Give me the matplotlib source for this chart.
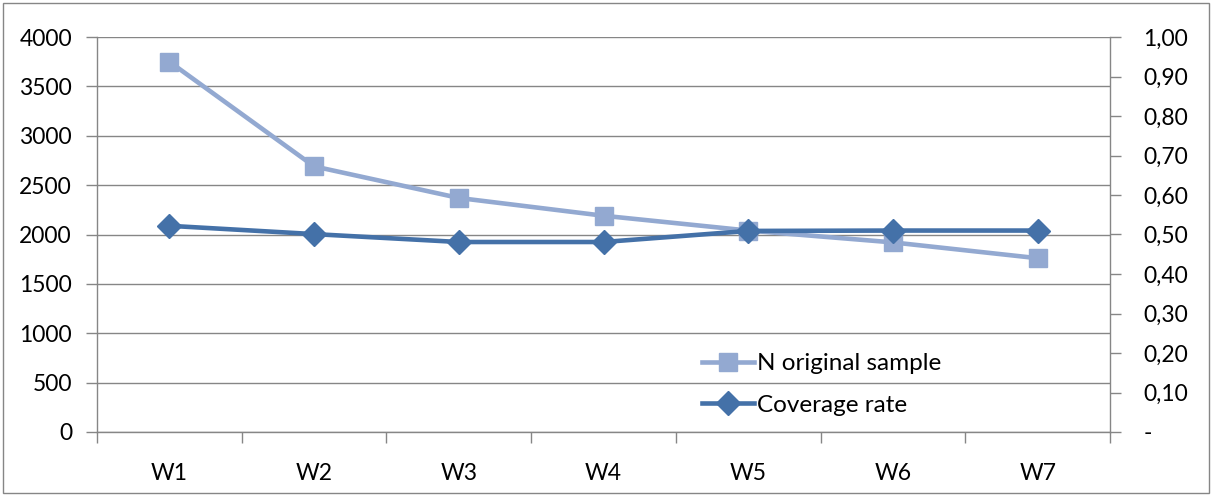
import matplotlib
matplotlib.use("Agg")
import matplotlib.pyplot as plt
from matplotlib.patches import Rectangle
from matplotlib.ticker import FixedLocator, FuncFormatter, MultipleLocator

# Data
waves = ["W1", "W2", "W3", "W4", "W5", "W6", "W7"]
n_original_sample = [3750, 2690, 2370, 2190, 2040, 1920, 1760]
coverage_rate = [0.522, 0.501, 0.481, 0.481, 0.509, 0.510, 0.510]

light_blue = "#93A9D1"
dark_blue = "#4471A8"
axis_gray = "#868686"

plt.rcParams["font.family"] = ["Lato", "DejaVu Sans"]
plt.rcParams["font.size"] = 16.5

fig = plt.figure(figsize=(12.12, 4.96), dpi=100)
ax = fig.add_axes([97 / 1212, 1 - 432 / 496, (1110 - 97) / 1212, (432 - 37) / 496])
ax2 = ax.twinx()

x = list(range(len(waves)))

ax.plot(x, n_original_sample, color=light_blue, lw=3.3, marker="s", ms=13.5,
        mfc=light_blue, mec=light_blue, label="N original sample", zorder=3)
ax2.plot(x, coverage_rate, color=dark_blue, lw=3.3, marker="D", ms=12,
         mfc=dark_blue, mec=dark_blue, label="Coverage rate", zorder=3)

ax.set_xlim(-0.5, len(waves) - 0.5)
ax.set_ylim(0, 4000)
ax2.set_ylim(0, 1.0)

ax.yaxis.set_major_locator(MultipleLocator(500))
ax2.yaxis.set_major_locator(MultipleLocator(0.1))
ax2.yaxis.set_major_formatter(FuncFormatter(
    lambda v, p: "-" if abs(v) < 1e-9 else f"{v:.2f}".replace(".", ",")))

ax.grid(axis="y", color=axis_gray, lw=1.0)
ax.set_axisbelow(True)

# category labels centred, tick marks on the boundaries
ax.set_xticks(x)
ax.set_xticklabels(waves)
ax.xaxis.set_minor_locator(FixedLocator([i + 0.5 for i in range(-1, len(waves))]))
ax.tick_params(axis="x", which="major", length=0, pad=22)
ax.tick_params(axis="x", which="minor", length=8, color=axis_gray, width=1, direction="out")
ax.tick_params(axis="y", length=8, color=axis_gray, width=1, pad=10, direction="out")
ax2.tick_params(axis="y", length=8, color=axis_gray, width=1, pad=16, direction="out")

for a in (ax, ax2):
    a.spines["top"].set_visible(False)
    for side in ("left", "right", "bottom"):
        a.spines[side].set_color(axis_gray)
        a.spines[side].set_linewidth(1.0)
ax.spines["right"].set_visible(False)
ax2.spines["left"].set_visible(False)
ax2.spines["bottom"].set_visible(False)

h1, l1 = ax.get_legend_handles_labels()
h2, l2 = ax2.get_legend_handles_labels()
leg = ax2.legend(h1 + h2, l1 + l2, loc="upper left",
                 bbox_to_anchor=(690 / 1212, 1 - 341 / 496),
                 bbox_transform=fig.transFigure, frameon=False,
                 handlelength=2.15, handletextpad=0.1, labelspacing=0.85,
                 borderpad=0, fontsize=17.5)

fig.patches.append(Rectangle((3 / 1212, 3 / 496), 1 - 6 / 1212, 1 - 6 / 496,
                             transform=fig.transFigure, fill=False,
                             edgecolor=axis_gray, lw=1.0))

fig.savefig("out.png", dpi=100)
